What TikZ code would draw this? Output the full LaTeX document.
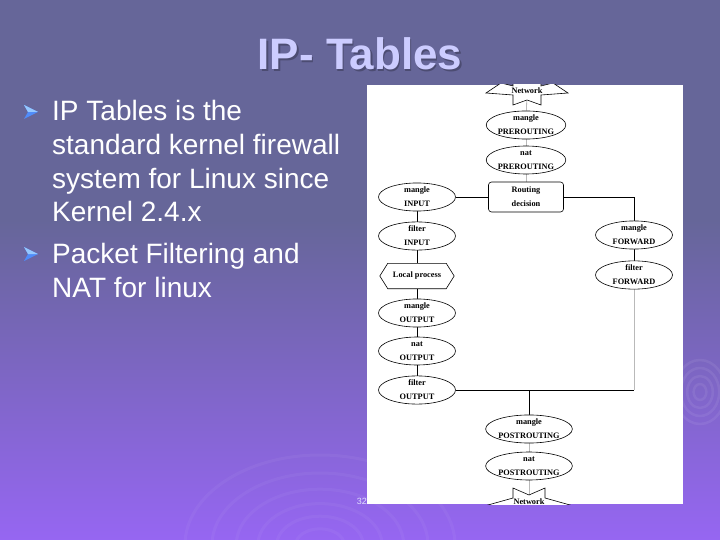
\documentclass[tikz,border=0pt]{standalone}
\usepackage{fontspec}
\setmainfont{Liberation Sans}
\newfontfamily\diagfont{Liberation Serif}
\usetikzlibrary{shapes.geometric,calc,backgrounds}
\definecolor{bgtop}{RGB}{102,102,153}
\definecolor{bgbot}{RGB}{150,102,242}
\definecolor{titlecol}{RGB}{204,204,255}
\definecolor{bulletcol}{RGB}{80,140,250}
\definecolor{bulletlight}{RGB}{150,200,255}
\definecolor{numcol}{RGB}{225,225,255}
\pgfdeclarelayer{bgzero}
\pgfsetlayers{bgzero,background,main}
\tikzset{
  ell/.style={ellipse, draw, line width=0.6pt, fill=white, minimum width=77pt, minimum height=28pt,
    inner sep=0pt, align=center, font=\diagfont\bfseries\fontsize{8.3}{14}\selectfont},
  smallell/.style={ell, minimum width=68pt},
  diagtext/.style={font=\diagfont\bfseries\fontsize{8.3}{14}\selectfont, align=center, inner sep=0pt},
  conn/.style={draw=black, line width=0.8pt},
  gconn/.style={draw=gray!55, line width=0.8pt},
  bullettext/.style={anchor=base west, inner sep=0pt, text=white, font=\fontsize{28}{34}\selectfont},
  starshape/.style={draw, line width=0.6pt, fill=white},
}
\newcommand{\bulletarrow}[2]{%
  \fill[bulletcol] (#1,#2-7) -- (#1+14,#2) -- (#1,#2+7) -- (#1+4,#2) -- cycle;
  \fill[bulletlight] (#1,#2-7) -- (#1+14,#2) -- (#1+4,#2) -- cycle;
}
\begin{document}
\begin{tikzpicture}[x=1pt,y=-1pt]
\useasboundingbox (0,0) rectangle (720,540);
\begin{pgfonlayer}{bgzero}
  \fill[bgtop] (0,0) rectangle (720,540);
  \shade[top color=bgtop, bottom color=bgbot] (0,220) rectangle (720,540);
  \foreach \r in {18,32,46,62,80,100} \draw[white, opacity=0.045, line width=3pt] (320,545) ellipse ({\r*1.35} and {\r*0.9});
  \foreach \r in {8,16,24,32} \draw[white, opacity=0.07, line width=2.5pt] (700,392) ellipse ({\r*0.8} and {\r});
  \fill[white] (367,85) rectangle (683,504);
\end{pgfonlayer}

% title
\node[text=black, opacity=0.25, font=\bfseries\fontsize{44}{44}\selectfont, anchor=base] at (361.5,71.5) {IP- Tables};
\node[text=titlecol, font=\bfseries\fontsize{44}{44}\selectfont, anchor=base] (title) at (360,70) {IP- Tables};

% bullets
\bulletarrow{24}{112}
\bulletarrow{24}{254}
\node[bullettext] (l1) at (52,121) {IP Tables is the};
\node[bullettext] (l2) at (52,155) {standard kernel firewall};
\node[bullettext] (l3) at (52,189) {system for Linux since};
\node[bullettext] (l4) at (52,222) {Kernel 2.4.x};
\node[bullettext] (l5) at (52,263) {Packet Filtering and};
\node[bullettext] (l6) at (52,297) {NAT for linux};

% page number
\node[anchor=base east, inner sep=0pt, text=numcol, font=\fontsize{9}{9}\selectfont] (num) at (367,504) {32};

% diagram nodes
\node[ell] (mPre) at (526,125) {mangle\\PREROUTING};
\node[ell] (nPre) at (526,160) {nat\\PREROUTING};
\node[draw, line width=0.6pt, rounded corners=3pt, fill=white, minimum width=75pt, minimum height=30pt, diagtext] (route) at (526,197) {Routing\\decision};

\node[ell] (mIn) at (417,197) {mangle\\INPUT};
\node[ell] (fIn) at (417,236) {filter\\INPUT};
\node[diagtext, minimum width=58pt, minimum height=25pt] (local) at (417,276) {Local process};
\draw[line width=0.6pt, fill=white] (local.north west) -- (local.north east) -- ($(local.east)+(8,0)$) -- (local.south east) -- (local.south west) -- ($(local.west)+(-8,0)$) -- cycle;
\node[diagtext] at (local) {Local process};
\node[ell] (mOut) at (417,313) {mangle\\OUTPUT};
\node[ell] (nOut) at (417,351) {nat\\OUTPUT};
\node[ell] (fOut) at (417,390) {filter\\OUTPUT};

\node[ell] (mFwd) at (634,235) {mangle\\FORWARD};
\node[ell] (fFwd) at (634,275) {filter\\FORWARD};

\node[smallell] (mPost) at (529,429) {mangle\\POSTROUTING};
\node[smallell] (nPost) at (529,466) {nat\\POSTROUTING};

\coordinate (fwdCorner) at (634,390);
\coordinate (junc) at (529,390);

% network stars (clipped to the panel)
\begin{scope}
  \clip (367,85) rectangle (683,504);
  \draw[starshape, shift={(527,92)}] (-41,1) -- (-14,3) -- (-14,13) -- (0,8) -- (14,13) -- (14,3) -- (41,1) -- (26,-9) -- (14,-6) -- (14,-16) -- (0,-11) -- (-14,-16) -- (-14,-6) -- (-26,-9) -- cycle;
  \node[diagtext] (netTop) at (527,91) {Network};
  \draw[starshape, shift={(529,500)}] (-41,5) -- (-16,-2) -- (-16,-12) -- (0,-5) -- (16,-12) -- (16,-2) -- (41,5) -- (26,13) -- (16,10) -- (16,20) -- (0,15) -- (-16,20) -- (-16,10) -- (-26,13) -- cycle;
  \node[diagtext] (netBot) at (529,502) {Network};
\end{scope}

% connectors (behind nodes)
\begin{pgfonlayer}{background}
  \path[gconn] (netTop) -- (mPre);
  \path[gconn] (mPre) -- (nPre);
  \path[gconn] (nPre) -- (route);
  \path[conn] (route.west) -- (mIn.east);
  \path[conn] (route.east) -| (mFwd.north);
  \path[conn] (mFwd) -- (fFwd);
  \path[gconn] (fFwd) -- (fwdCorner);
  \path[conn] (mIn) -- (fIn);
  \path[conn] (fIn) -- (local);
  \path[conn] (local) -- (mOut);
  \path[conn] (mOut) -- (nOut);
  \path[conn] (nOut) -- (fOut);
  \path[conn] (fOut.east) -- (fwdCorner);
  \path[conn] (junc) -- (mPost);
  \path[gconn] (mPost) -- (nPost);
  \path[gconn] (nPost) -- (netBot);
\end{pgfonlayer}
\end{tikzpicture}
\end{document}
